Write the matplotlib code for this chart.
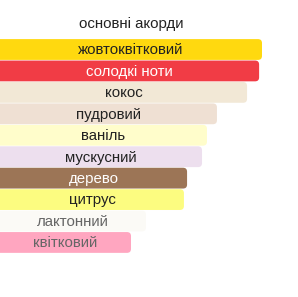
import matplotlib
matplotlib.use("Agg")
import matplotlib.pyplot as plt
from matplotlib.patches import FancyBboxPatch

plt.rcParams['font.family'] = ['Liberation Sans', 'DejaVu Sans']

# main accords, strongest first (relative strength, max = 100)
accords = ['жовтоквітковий', 'солодкі ноти', 'кокос', 'пудровий', 'ваніль',
           'мускусний', 'дерево', 'цитрус', 'лактонний', 'квітковий']
strength = [100, 98.9, 94.3, 82.8, 79.0, 77.1, 71.4, 70.2, 55.7, 50.0]
colors = ['#FFD90F', '#F13C45', '#F2E8D6', '#EFE0D3', '#FFFDCB',
          '#EDDFEE', '#9C7556', '#FCFC80', '#FBFAF6', '#FFA6C0']
text_colors = ['#222222', '#FFFFFF', '#222222', '#222222', '#222222',
               '#222222', '#FFFFFF', '#222222', '#666666', '#666666']
title = 'основні акорди'

W, H = 298, 297
fig = plt.figure(figsize=(W / 100, H / 100), dpi=100)
ax = fig.add_axes([0, 0, 1, 1])
xmax = max(strength) * W / 262
pitch = 21.44
y0 = 49.5
ax.set_xlim(0, xmax)
ax.set_ylim((H - y0) / pitch, -y0 / pitch)
ax.axis('off')

# units per pixel for corner rounding
xu = xmax / W
yu = (H / pitch) / H
r = 4
bh = 0.97
for i, (v, c) in enumerate(zip(strength, colors)):
    left = -10 * xu
    box = FancyBboxPatch((left, i - bh / 2), v - left, bh,
                         boxstyle=f"round,pad=0,rounding_size={r * xu}",
                         mutation_aspect=yu / xu, fc=c, ec='none')
    ax.add_patch(box)
    ax.text(v / 2, i + 0.04, accords[i], ha='center', va='center',
            fontsize=10.8, color=text_colors[i])

ax.text(max(strength) / 2, (24 - y0) / pitch, title, ha='center', va='center',
        fontsize=10.8, color='#222222')

fig.savefig('out.png', dpi=100)
